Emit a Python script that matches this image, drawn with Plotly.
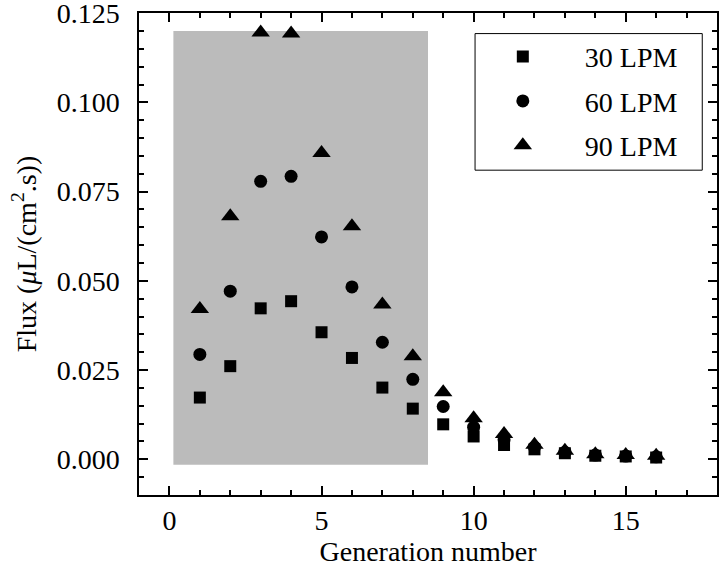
import plotly.graph_objects as go

generation = [1, 2, 3, 4, 5, 6, 7, 8, 9, 10, 11, 12, 13, 14, 15, 16]
flux_30 = [0.0173, 0.0261, 0.0423, 0.0443, 0.0356, 0.0284, 0.0201, 0.0142, 0.0098,
           0.0064, 0.0040, 0.0028, 0.0017, 0.0010, 0.0008, 0.0005]
flux_60 = [0.0294, 0.0471, 0.0779, 0.0793, 0.0623, 0.0483, 0.0328, 0.0224, 0.0148,
           0.0090, 0.0055, 0.0034, 0.0020, 0.0012, 0.0009, 0.0007]
flux_90 = [0.0421, 0.0681, 0.1196, 0.1193, 0.0858, 0.0653, 0.0434, 0.0289, 0.0188,
           0.0115, 0.0071, 0.0041, 0.0024, 0.0014, 0.0012, 0.0010]
series_names = ["30 LPM", "60 LPM", "90 LPM"]
region_x = [0.13, 8.5]
region_y = [-0.0015, 0.12]

FONT = "Liberation Serif, Times New Roman, serif"
NB = "\u00a0\u00a0"

fig = go.Figure()
for name, vals, sym, sz in zip(series_names, [flux_30, flux_60, flux_90],
                               ["square", "circle", "triangle-up"], [12, 13, 16]):
    fig.add_trace(go.Scatter(
        x=generation, y=vals, mode="markers", name=NB + name, legendgroup=name,
        marker=dict(symbol=sym, size=sz, color="black", line=dict(width=0)),
    ))

fig.add_shape(type="rect", xref="x", yref="y", x0=region_x[0], x1=region_x[1],
              y0=region_y[0], y1=region_y[1], fillcolor="#BBBBBB",
              line=dict(width=0), layer="below")
# legend frame
fig.add_shape(type="rect", xref="paper", yref="paper", x0=0.5814, x1=0.9745,
              y0=0.6739, y1=0.9573, fillcolor="white",
              line=dict(width=1, color="black"), layer="above")

axis_common = dict(
    showline=True, linecolor="black", linewidth=1.5, mirror="allticks",
    ticks="inside", ticklen=9, tickwidth=1.5, tickcolor="black",
    showgrid=False, zeroline=False, automargin=False, ticklabeloverflow="allow",
    tickfont=dict(family=FONT, size=28, color="black"),
)

fig.update_xaxes(
    range=[-1, 18], tick0=0, dtick=5,
    minor=dict(ticks="inside", ticklen=5, tickwidth=1.5, tickcolor="black", dtick=1, showgrid=False),
    title=dict(text="Generation number", font=dict(family=FONT, size=28, color="black"), standoff=0),
    **axis_common,
)
fig.update_yaxes(
    range=[-0.01, 0.12505], tick0=0, dtick=0.025, tickformat=".3f", ticklabelstandoff=12,
    minor=dict(ticks="inside", ticklen=5, tickwidth=1.5, tickcolor="black", dtick=0.005, showgrid=False),
    title=dict(text="Flux (<i>μ</i>L/(cm<sup>2</sup>.s))", font=dict(family=FONT, size=28, color="black"), standoff=12),
    **axis_common,
)

fig.update_layout(
    width=720, height=574,
    margin=dict(l=139, r=3, t=13, b=79),
    paper_bgcolor="white", plot_bgcolor="white",
    showlegend=True,
    legend=dict(
        x=0.581, y=0.961, xanchor="left", yanchor="top",
        borderwidth=0, bgcolor="rgba(0,0,0,0)",
        font=dict(family=FONT, size=28, color="black"),
        itemwidth=86, tracegroupgap=5,
    ),
)

fig.write_html("out.html", config={"displayModeBar": False},
               post_script="document.body.style.margin='0px';")
